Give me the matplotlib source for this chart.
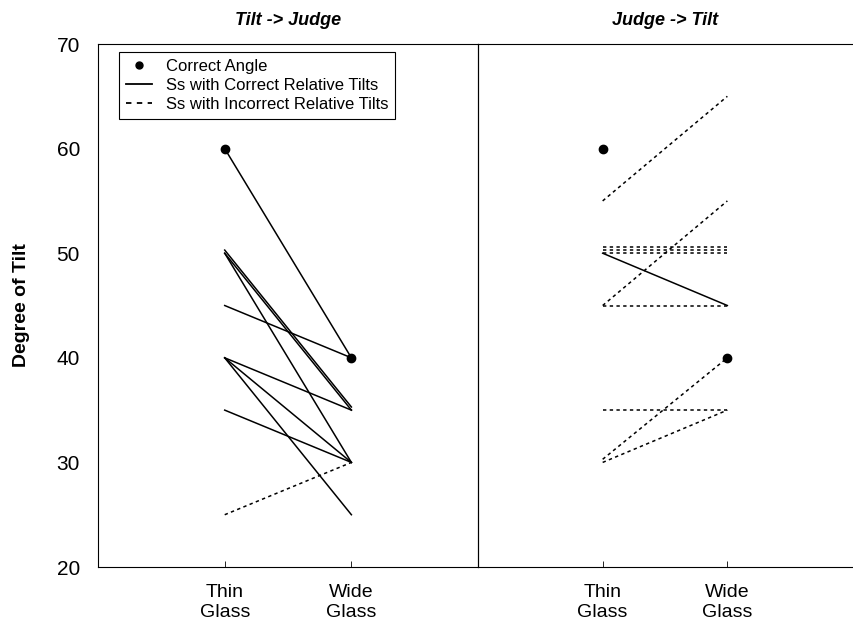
import matplotlib
matplotlib.use("Agg")
import matplotlib.pyplot as plt
from matplotlib.lines import Line2D

plt.rcParams['font.family'] = ['Liberation Sans', 'DejaVu Sans']

conditions = ['Thin\nGlass', 'Wide\nGlass']
correct_angle = [60, 40]

# Tilt -> Judge: (thin, wide) per subject
tj_correct = [(60, 40), (50.3, 35.3), (50, 35), (50, 30), (45, 40),
              (40, 35), (40, 30), (40, 25), (35, 30)]
tj_incorrect = [(25, 30)]

# Judge -> Tilt
jt_correct = [(50, 45)]
jt_incorrect = [(55, 65), (45, 55), (50.6, 50.6), (50.3, 50.3), (50, 50),
                (45, 45), (35, 35), (30.3, 40), (30, 35)]

dotted = (0, (2.2, 2.2))

fig = plt.figure(figsize=(8.54, 6.26), dpi=100)
ax1 = fig.add_axes([0.1148, 0.0942, 0.445, 0.8355])
ax2 = fig.add_axes([0.5597, 0.0942, 0.4380, 0.8355])
ax2.patch.set_alpha(0)


def draw_panel(ax, correct, incorrect, title):
    xs = [1, 2]
    for pair in correct:
        ax.plot(xs, pair, color='black', lw=1.1, ls='-')
    for pair in incorrect:
        ax.plot(xs, pair, color='black', lw=1.1, ls=dotted)
    ax.plot(xs, correct_angle, 'o', color='black', ms=6, zorder=5)
    ax.set_xlim(0, 3)
    ax.set_ylim(20, 70)
    ax.set_xticks(xs)
    ax.set_xticklabels(conditions, fontsize=14, linespacing=1.25)
    ax.tick_params(axis='x', direction='in', length=4, pad=12, width=0.6)
    ax.set_title(title, fontsize=13, fontweight='bold', style='italic', pad=14)
    for sp in ax.spines.values():
        sp.set_linewidth(0.8)


draw_panel(ax1, tj_correct, tj_incorrect, 'Tilt -> Judge')
draw_panel(ax2, jt_correct, jt_incorrect, 'Judge -> Tilt')

ax1.set_yticks([20, 30, 40, 50, 60, 70])
ax1.tick_params(axis='y', length=0, labelsize=15, pad=13)
ax1.set_ylabel('Degree of Tilt', fontsize=14, fontweight='bold', labelpad=19)

ax2.set_yticks([])
ax2.spines['right'].set_visible(False)

handles = [
    Line2D([], [], marker='o', color='black', ls='none', ms=5),
    Line2D([], [], color='black', lw=1.3, ls='-'),
    Line2D([], [], color='black', lw=1.3, ls=(0, (3, 3))),
]
labels = ['Correct Angle', 'Ss with Correct Relative Tilts',
          'Ss with Incorrect Relative Tilts']
leg = ax1.legend(handles, labels, loc='upper left', fontsize=12,
                 bbox_to_anchor=(0.055, 0.985), fancybox=False,
                 edgecolor='black', framealpha=1, handlelength=1.6,
                 handletextpad=0.8, labelspacing=0.25, borderpad=0.4,
                 borderaxespad=0)
leg.get_frame().set_linewidth(0.8)

fig.savefig('out.png', dpi=100)
